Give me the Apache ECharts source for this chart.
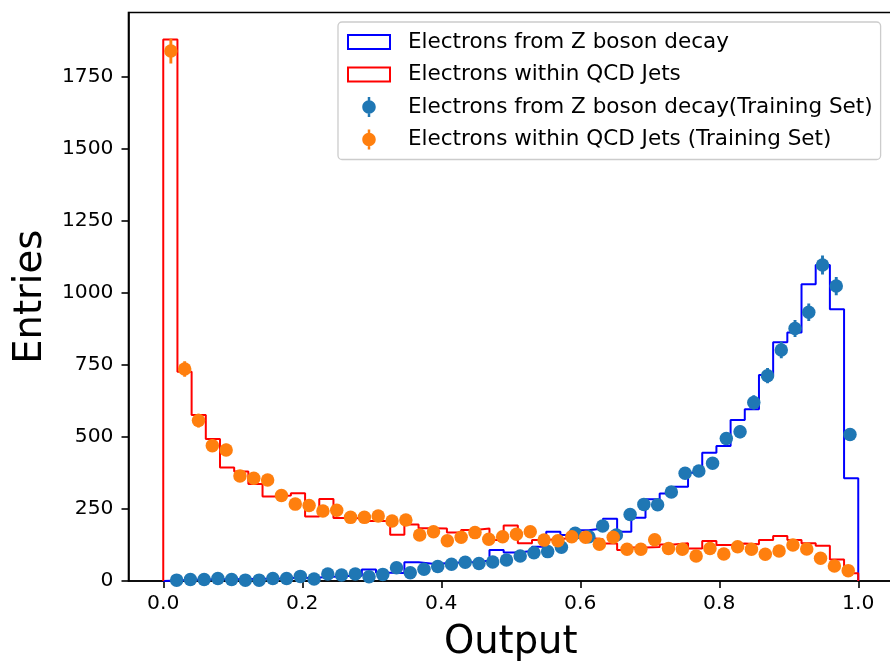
<!DOCTYPE html>
<html>
<head>
<meta charset="utf-8">
<script src="https://cdn.jsdelivr.net/npm/echarts@6/dist/echarts.min.js"></script>
<style>
  html, body { margin: 0; padding: 0; background: #fff; }
  #chart { width: 890px; height: 667px; }
</style>
</head>
<body>
<div id="chart"></div>
<script>
// Classifier output distributions: step histograms (49 equal bins over [0, 1])
// and training-set counts (50 bins each) drawn as points with Poisson errors.

const histBinCount = 49;
const histRange = [0, 1];

// Step histogram heights, one per bin
const zHist = [
  2, 4, 5, 6, 6, 7, 8, 8, 10, 10,
  12, 15, 17, 18, 40, 29, 28, 65, 60, 62,
  64, 66, 70, 108, 99, 104, 119, 171, 160, 176,
  182, 216, 171, 220, 284, 304, 327, 376, 445, 469,
  559, 596, 715, 829, 863, 1030, 1097, 944, 357
];
const qcdHist = [
  1880, 727, 576, 493, 394, 380, 337, 293, 297, 305,
  224, 285, 219, 218, 208, 208, 161, 196, 183, 182,
  168, 177, 182, 142, 193, 131, 142, 146, 150, 150,
  145, 130, 108, 116, 118, 127, 131, 113, 139, 125,
  130, 128, 142, 156, 142, 131, 122, 75, 27
];

// Training-set counts; each set is binned in 50 bins over its own range
const zPointRange = [0.0094, 0.998];
const qcdPointRange = [0.001, 0.9955];
const zPoints = [
  3, 5, 5, 9, 5, 3, 3, 9, 9, 16,
  7, 24, 21, 24, 15, 23, 46, 29, 41, 50,
  58, 65, 61, 66, 73, 87, 98, 102, 117, 166,
  154, 191, 160, 231, 266, 265, 309, 374, 382, 409,
  495, 518, 620, 713, 802, 877, 933, 1097, 1024, 509
];
const qcdPoints = [
  1840, 736, 557, 470, 455, 365, 357, 351, 297, 267,
  262, 243, 246, 221, 221, 226, 208, 212, 160, 171,
  140, 152, 168, 145, 154, 162, 171, 142, 140, 154,
  152, 128, 152, 110, 110, 143, 113, 110, 87, 113,
  94, 119, 110, 93, 104, 125, 111, 79, 52, 36
];

const xTicks = [0, 0.2, 0.4, 0.6, 0.8, 1.0];
const yTicks = [0, 250, 500, 750, 1000, 1250, 1500, 1750];

const names = {
  zHist: 'Electrons from Z boson decay',
  qcdHist: 'Electrons within QCD Jets',
  zPts: 'Electrons from Z boson decay(Training Set)',
  qcdPts: 'Electrons within QCD Jets (Training Set)'
};

const FONT = 'DejaVu Sans';

// Outline of a step histogram: up from the baseline at the first edge,
// across each bin, and back down to the baseline at the last edge.
function stepOutline(heights, range) {
  const n = heights.length;
  const w = (range[1] - range[0]) / n;
  const pts = [[range[0], 0]];
  for (let i = 0; i < n; i++) pts.push([range[0] + i * w, heights[i]]);
  pts.push([range[1], 0]);
  return pts;
}

// Bin centres for a set of counts binned over the given range
function binned(counts, range) {
  const n = counts.length;
  const w = (range[1] - range[0]) / n;
  return counts.map((c, i) => [range[0] + (i + 0.5) * w, c, Math.sqrt(c)]);
}

function errorBars(name, data, color) {
  return {
    name: name,
    type: 'custom',
    clip: true,
    data: data,
    z: 3,
    renderItem: function (params, api) {
      const x = api.value(0), y = api.value(1), e = api.value(2);
      const p1 = api.coord([x, y - e]);
      const p2 = api.coord([x, y + e]);
      return {
        type: 'line',
        shape: { x1: p1[0], y1: p1[1], x2: p2[0], y2: p2[1] },
        style: { stroke: color, lineWidth: 2.9 }
      };
    }
  };
}

const zPtData = binned(zPoints, zPointRange);
const qcdPtData = binned(qcdPoints, qcdPointRange);

// Legend glyphs: an open box for the histograms, a dot with an error bar for the points
const rectIcon = 'path://M0,0h42v14h-42z';
const dotIcon = 'path://M5.75,0L8.25,0L8.25,20L5.75,20Z' +
  'M7,3.25C10.728,3.25 13.75,6.272 13.75,10C13.75,13.728 10.728,16.75 7,16.75' +
  'C3.272,16.75 0.25,13.728 0.25,10C0.25,6.272 3.272,3.25 7,3.25Z';

const chart = echarts.init(document.getElementById('chart'), null, { renderer: 'canvas' });
chart.setOption({
  animation: false,
  backgroundColor: '#ffffff',
  grid: {
    left: 128.5, top: 12.5, width: 764.5, height: 568.5,
    outerBoundsMode: 'none', containLabel: false,
    show: true, borderColor: '#000', borderWidth: 1.6, backgroundColor: 'transparent'
  },
  legend: {
    orient: 'vertical',
    left: 338, top: 22,
    padding: [9, 8, 9, 9],
    itemWidth: 42, itemHeight: 20, itemGap: 10.5,
    backgroundColor: 'rgba(255,255,255,0.8)',
    borderColor: '#cccccc', borderWidth: 1.3, borderRadius: 4,
    selectedMode: false,
    textStyle: { fontFamily: FONT, fontSize: 21.5, color: '#000', lineHeight: 20, padding: [0, 0, 0, 13] },
    data: [
      { name: names.zHist, icon: rectIcon, itemStyle: { color: 'rgba(0,0,0,0)', borderColor: '#0000ff', borderWidth: 2 } },
      { name: names.qcdHist, icon: rectIcon, itemStyle: { color: 'rgba(0,0,0,0)', borderColor: '#ff0000', borderWidth: 2 } },
      { name: names.zPts, icon: dotIcon, itemStyle: { color: '#1f77b4', borderWidth: 0 } },
      { name: names.qcdPts, icon: dotIcon, itemStyle: { color: '#ff7f0e', borderWidth: 0 } }
    ]
  },
  xAxis: {
    type: 'value', min: -0.05, max: 1.05,
    name: 'Output', nameLocation: 'middle', nameGap: 42,
    nameTextStyle: { fontFamily: FONT, fontSize: 38.5, color: '#000' },
    axisLine: { show: true, onZero: false, lineStyle: { color: '#000', width: 1.6 } },
    axisTick: { show: true, length: 7, customValues: xTicks, lineStyle: { color: '#000', width: 1.6 } },
    axisLabel: { customValues: xTicks, margin: 13, fontFamily: FONT, fontSize: 20.3, color: '#000',
                 formatter: v => v.toFixed(1) },
    splitLine: { show: false }
  },
  yAxis: {
    type: 'value', min: 0, max: 1974,
    name: 'Entries', nameLocation: 'middle', nameGap: 69, nameRotate: 90,
    nameTextStyle: { fontFamily: FONT, fontSize: 38.5, color: '#000' },
    axisLine: { show: true, onZero: false, lineStyle: { color: '#000', width: 1.6 } },
    axisTick: { show: true, length: 7, customValues: yTicks, lineStyle: { color: '#000', width: 1.6 } },
    axisLabel: { customValues: yTicks, margin: 15, fontFamily: FONT, fontSize: 20.3, color: '#000',
                 formatter: v => String(v) },
    splitLine: { show: false }
  },
  series: [
    {
      name: names.zHist, type: 'line', step: 'end', showSymbol: false, symbol: 'none',
      data: stepOutline(zHist, histRange), clip: true, z: 1,
      lineStyle: { color: '#0000ff', width: 2 }, itemStyle: { color: '#0000ff' }
    },
    {
      name: names.qcdHist, type: 'line', step: 'end', showSymbol: false, symbol: 'none',
      data: stepOutline(qcdHist, histRange), clip: true, z: 1,
      lineStyle: { color: '#ff0000', width: 2 }, itemStyle: { color: '#ff0000' }
    },
    errorBars(names.zPts, zPtData, '#1f77b4'),
    {
      name: names.zPts, type: 'scatter', data: zPtData, symbol: 'circle', symbolSize: 13.5,
      clip: true, z: 3, itemStyle: { color: '#1f77b4', opacity: 1 }
    },
    errorBars(names.qcdPts, qcdPtData, '#ff7f0e'),
    {
      name: names.qcdPts, type: 'scatter', data: qcdPtData, symbol: 'circle', symbolSize: 13.5,
      clip: true, z: 3, itemStyle: { color: '#ff7f0e', opacity: 1 }
    }
  ]
});
</script>
</body>
</html>
